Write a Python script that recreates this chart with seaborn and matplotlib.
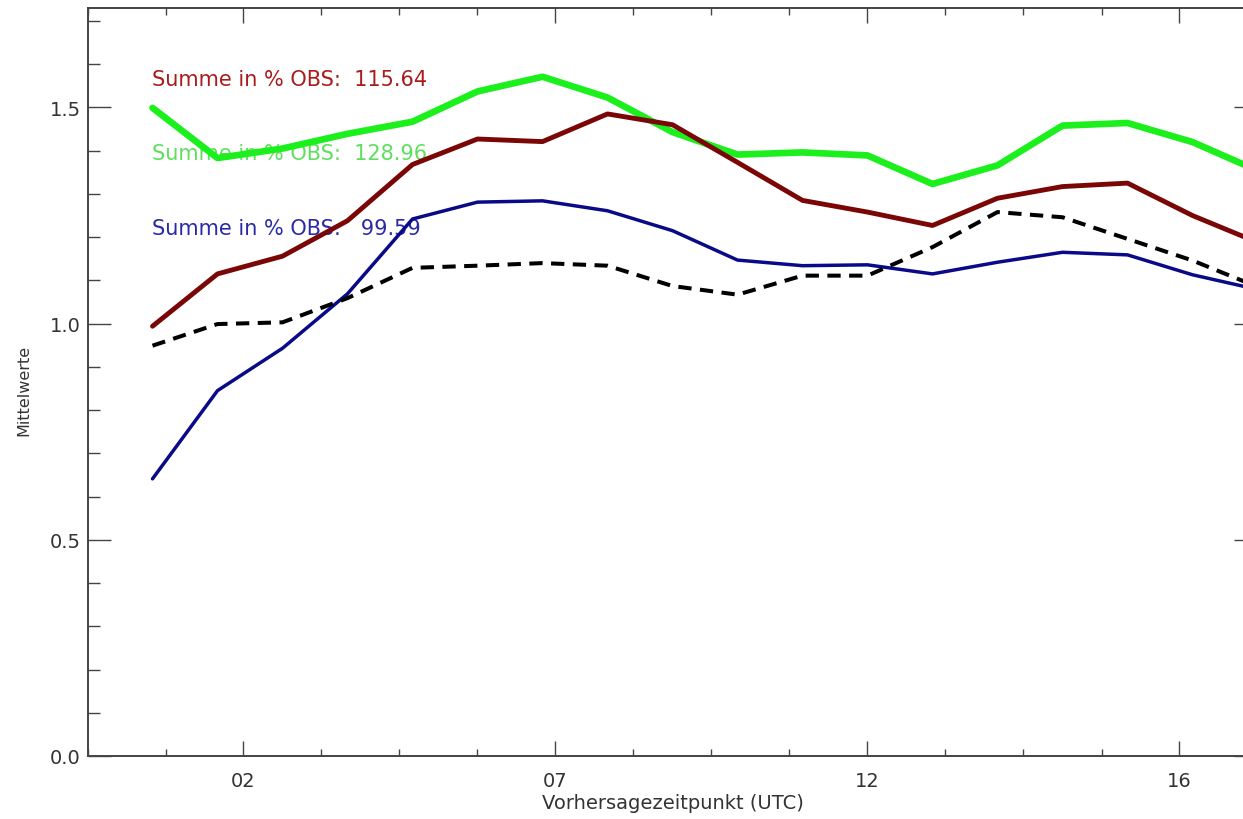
import numpy as np
import matplotlib
matplotlib.use("Agg")
import matplotlib.pyplot as plt
import seaborn as sns
from matplotlib.ticker import MultipleLocator, FormatStrFormatter

# forecast steps (hourly) and mean values
hours = list(range(1, 19))
obs_mean = [0.949, 0.999, 1.003, 1.059, 1.129, 1.134, 1.140, 1.134, 1.087,
            1.067, 1.111, 1.111, 1.177, 1.258, 1.246, 1.196, 1.146, 1.085]
red_mean = [0.994, 1.115, 1.156, 1.238, 1.368, 1.427, 1.421, 1.485, 1.460,
            1.373, 1.285, 1.258, 1.227, 1.290, 1.317, 1.325, 1.250, 1.188]
green_mean = [1.499, 1.383, 1.405, 1.439, 1.467, 1.537, 1.571, 1.523, 1.443,
              1.391, 1.396, 1.389, 1.323, 1.366, 1.458, 1.464, 1.420, 1.354]
blue_mean = [0.641, 0.845, 0.943, 1.069, 1.242, 1.281, 1.284, 1.261, 1.215,
             1.147, 1.134, 1.136, 1.115, 1.142, 1.165, 1.159, 1.113, 1.079]

# percentage sums printed in the plot
sum_labels = ["red", "green", "blue"]
sum_values = [115.64, 128.96, 99.59]

xtick_pos = [2.4, 7.2, 12.0, 16.8]
xtick_labels = ["02", "07", "12", "16"]

sns.set_style("white")
plt.rcParams['font.family'] = ['DejaVu Sans']

fig = plt.figure(figsize=(12.43, 8.20), dpi=100)
ax = fig.add_axes([87.5 / 1243, 63 / 820, 1170 / 1243, 748 / 820])

# summary text (drawn below the lines)
text_colors = {"red": "#a81c1c", "green": "#5ee05e", "blue": "#2a2aa8"}
text_y = [1.552, 1.381, 1.2075]
for name, val, ty in zip(sum_labels, sum_values, text_y):
    ax.text(1.0, ty, f"Summe in % OBS: {val:7.2f}", color=text_colors[name],
            fontsize=15, ha="left", va="baseline", zorder=1)

sns.lineplot(x=hours, y=green_mean, ax=ax, color="#1cf01c", linewidth=4.8, zorder=3)
sns.lineplot(x=hours, y=red_mean, ax=ax, color="#7a0606", linewidth=3.5, zorder=3)
sns.lineplot(x=hours, y=blue_mean, ax=ax, color="#0a0a88", linewidth=2.5, zorder=3)
sns.lineplot(x=hours, y=obs_mean, ax=ax, color="black", linewidth=2.9,
             linestyle=(0, (3.3, 2.1)), zorder=4)

ax.set_xlim(0, 18)
ax.set_ylim(0, 1.73)

ax.set_xticks(xtick_pos)
ax.set_xticklabels(xtick_labels)
ax.xaxis.set_minor_locator(MultipleLocator(1.2))
ax.set_yticks([0.0, 0.5, 1.0, 1.5])
ax.yaxis.set_major_formatter(FormatStrFormatter("%.1f"))
ax.yaxis.set_minor_locator(MultipleLocator(0.1))

for sp in ax.spines.values():
    sp.set_visible(True)
    sp.set_color("#444444")
    sp.set_linewidth(1.4)

ax.tick_params(axis="both", which="both", direction="in", colors="#444444",
               labelcolor="#333333", labelsize=14)
ax.tick_params(axis="x", which="major", length=10.5, width=1.0, pad=11,
               bottom=True, top=True)
ax.tick_params(axis="x", which="minor", length=5, width=1.0, bottom=True, top=True)
ax.tick_params(axis="y", which="major", length=16.5, width=1.0, pad=5,
               left=True, right=True)
ax.tick_params(axis="y", which="minor", length=8.6, width=1.0, left=True, right=True)

ax.set_xlabel("Vorhersagezeitpunkt (UTC)", fontsize=14, color="#333333", labelpad=2)
ax.set_ylabel("Mittelwerte", fontsize=11.5, color="#333333", labelpad=10)
ax.yaxis.set_label_coords(-0.048, 0.49)

fig.savefig("out.png", dpi=100)
